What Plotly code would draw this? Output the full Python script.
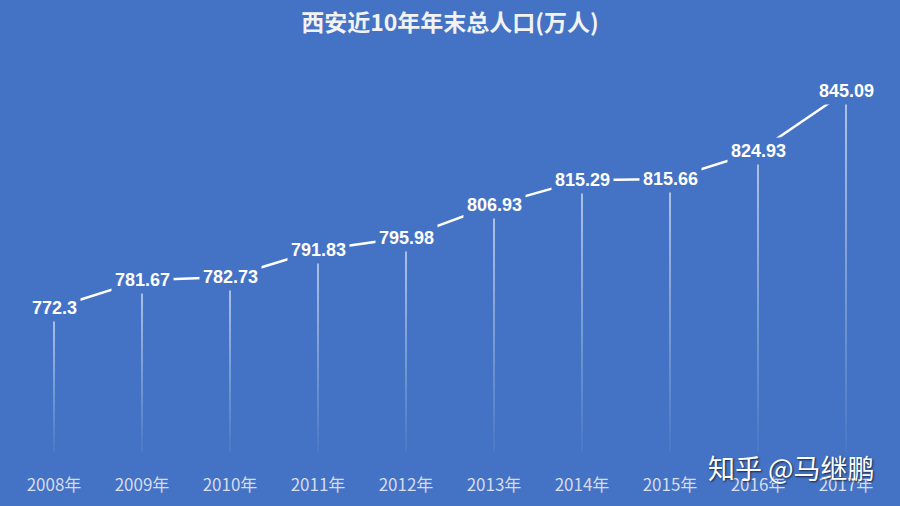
import plotly.graph_objects as go

years = ["2008年", "2009年", "2010年", "2011年", "2012年", "2013年", "2014年", "2015年", "2016年", "2017年"]
population = [772.3, 781.67, 782.73, 791.83, 795.98, 806.93, 815.29, 815.66, 824.93, 845.09]
labels = ["772.3", "781.67", "782.73", "791.83", "795.98", "806.93", "815.29", "815.66", "824.93", "845.09"]

BG = "#4472C4"
Y_BASE = 723.9
Y_TOP = 862.4

fig = go.Figure()
xs = list(range(len(years)))

# fading drop lines
half = 0.007
for i, v in enumerate(population):
    fig.add_trace(go.Scatter(
        x=[i - half, i + half, i + half, i - half, i - half],
        y=[v, v, Y_BASE, Y_BASE, v],
        mode="lines", line=dict(width=0),
        fill="toself",
        fillgradient=dict(type="vertical",
                          colorscale=[[0, "rgba(255,255,255,0.05)"], [0.5, "rgba(255,255,255,0.5)"], [1, "rgba(255,255,255,0.95)"]],
                          start=Y_BASE, stop=v),
        hoverinfo="skip", showlegend=False))

# main line
fig.add_trace(go.Scatter(x=xs, y=population, mode="lines",
                         line=dict(color="white", width=2.5),
                         hoverinfo="skip", showlegend=False))

for i, (v, t) in enumerate(zip(population, labels)):
    fig.add_annotation(x=i, y=v, text=f"<b>{t}</b>", showarrow=False,
                       bgcolor=BG, borderpad=3,
                       font=dict(family="Liberation Sans, Arial", size=18, color="white"))

fig.add_annotation(x=1, y=0, xref="paper", yref="paper", xanchor="right", yanchor="bottom",
                   xshift=-13, yshift=-37,
                   text="知乎 @马继鹏", showarrow=False,
                   font=dict(family="Noto Sans CJK SC", size=27, color="white",
                             shadow="1px 1px 2px rgba(0,0,0,0.7)"))

fig.update_layout(
    width=900, height=506,
    paper_bgcolor=BG, plot_bgcolor=BG,
    margin=dict(l=10, r=10, t=40, b=51),
    title=dict(text="<b>西安近10年年末总人口(万人)</b>", x=0.5, y=0.955, xanchor="center", yanchor="middle",
               font=dict(family="Noto Sans CJK SC", size=23, color="#f2f2f2")),
    xaxis=dict(tickmode="array", tickvals=xs, ticktext=years, range=[-0.5, 9.5],
               showgrid=False, zeroline=False, showline=False, ticks="",
               ticklabelstandoff=21,
               tickfont=dict(family="Noto Sans CJK SC, Liberation Sans", size=17, color="#d5dcee")),
    yaxis=dict(range=[Y_BASE, Y_TOP], visible=False, showgrid=False, zeroline=False),
)

fig.write_html("out.html", config={"displayModeBar": False},
               post_script="document.body.style.margin='0';document.body.style.overflow='hidden';document.documentElement.style.overflow='hidden';")
